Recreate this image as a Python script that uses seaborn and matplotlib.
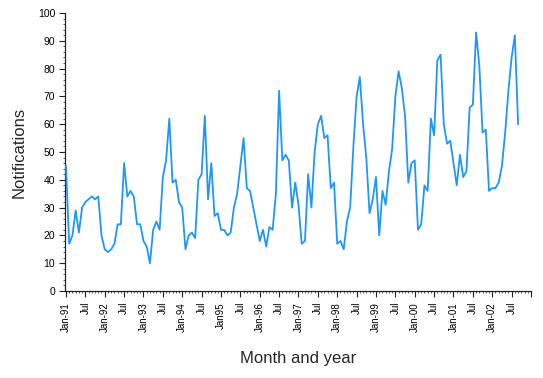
import matplotlib
matplotlib.use("Agg")
import matplotlib.pyplot as plt
from matplotlib.ticker import MultipleLocator, FixedLocator
import seaborn as sns
import pandas as pd

# Monthly notifications, Jan-91 .. Sep-02
notifications = [
    45, 17, 20, 29, 21, 30, 32, 33, 34, 33, 34, 20,   # 1991
    15, 14, 15, 17, 24, 24, 46, 34, 36, 34, 24, 24,   # 1992
    18, 16, 10, 22, 25, 22, 41, 47, 62, 39, 40, 32,   # 1993
    30, 15, 20, 21, 19, 40, 42, 63, 33, 46, 27, 28,   # 1994
    22, 22, 20, 21, 30, 35, 45, 55, 37, 36, 30, 24,   # 1995
    18, 22, 16, 23, 22, 35, 72, 47, 49, 47, 30, 39,   # 1996
    31, 17, 18, 42, 30, 50, 60, 63, 55, 56, 37, 39,   # 1997
    17, 18, 15, 25, 30, 52, 70, 77, 60, 48, 28, 33,   # 1998
    41, 20, 36, 31, 43, 51, 70, 79, 73, 63, 39, 46,   # 1999
    47, 22, 24, 38, 36, 62, 56, 83, 85, 60, 53, 54,   # 2000
    46, 38, 49, 41, 43, 66, 67, 93, 81, 57, 58, 36,   # 2001
    37, 37, 39, 45, 57, 72, 84, 92, 60,               # 2002
]
month_index = list(range(len(notifications)))

tick_labels = ["Jan-91", "Jul", "Jan-92", "Jul", "Jan-93", "Jul", "Jan-94", "Jul",
               "Jan95", "Jul", "Jan-96", "Jul", "Jan-97", "Jul", "Jan-98", "Jul",
               "Jan-99", "Jul", "Jan-00", "Jul", "Jan-01", "Jul", "Jan-02", "Jul", ""]
tick_positions = [6 * k for k in range(len(tick_labels))]

df = pd.DataFrame({"month": month_index, "Notifications": notifications})

sns.set_style("ticks")
plt.rcParams["font.family"] = ["Liberation Sans", "DejaVu Sans"]

fig = plt.figure(figsize=(5.43, 3.78), dpi=100)
ax = fig.add_axes([65 / 543, 87 / 378, (531 - 65) / 543, (291 - 13) / 378])

sns.lineplot(data=df, x="month", y="Notifications", ax=ax,
             color="#1E96FF", linewidth=1.3, zorder=4)
for ln in ax.lines:
    ln.set_clip_on(False)

ax.set_xlim(-0.3, 144)
ax.set_ylim(0, 100)
ax.yaxis.set_major_locator(MultipleLocator(10))
ax.yaxis.set_minor_locator(MultipleLocator(2))
ax.xaxis.set_major_locator(FixedLocator(tick_positions))
ax.xaxis.set_minor_locator(MultipleLocator(1))
ax.set_xticklabels(tick_labels, rotation=90)

ax.tick_params(axis="x", which="major", labelsize=7, length=4, width=0.8,
               color="#222222", labelcolor="black", pad=4)
ax.tick_params(axis="y", which="major", labelsize=7.5, length=4, width=0.8,
               color="#222222", labelcolor="black", pad=3)
ax.tick_params(axis="both", which="minor", length=1.5, width=0.6, color="#444444")

for side in ["top", "right"]:
    ax.spines[side].set_visible(False)
for side in ["left", "bottom"]:
    ax.spines[side].set_color("#222222")
    ax.spines[side].set_linewidth(0.9)

ax.set_xlabel("Month and year", fontsize=12, labelpad=14)
ax.set_ylabel("Notifications", fontsize=12, labelpad=8)

fig.savefig("out.png", dpi=100)
